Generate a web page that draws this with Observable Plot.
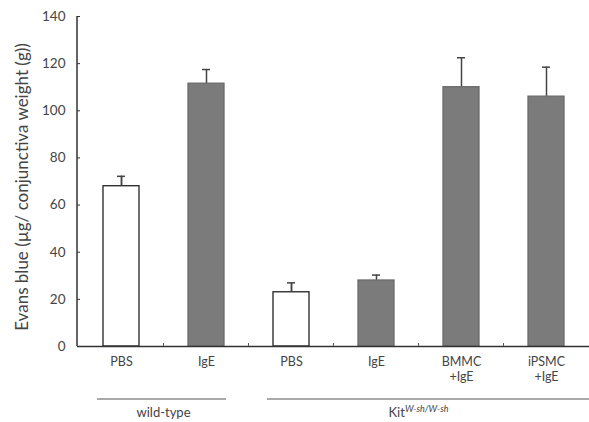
<!DOCTYPE html>
<html><head><meta charset="utf-8">
<script src="https://cdn.jsdelivr.net/npm/d3@7"></script>
<script src="https://cdn.jsdelivr.net/npm/@observablehq/plot@0.6"></script>
<style>body{margin:0;background:#fff;} svg{font-family:Lato,"Open Sans",sans-serif;}</style>
</head><body><div id="chart"></div>
<script>
const ids = ["wt-PBS","wt-IgE","kit-PBS","kit-IgE","kit-BMMC","kit-iPSMC"];
const labels = ["PBS","IgE","PBS","IgE","BMMC\n+IgE","iPSMC\n+IgE"];
const values = [68, 111.5, 23, 28, 110, 106];
const errors = [4.2, 6, 4, 2.3, 12.5, 12.5];
const fills = ["white","grey","white","grey","grey","grey"];
const groups = [{name:"wild-type", members:["wt-PBS","wt-IgE"]},{name:"Kit", sup:"W-sh/W-sh", members:["kit-PBS","kit-IgE","kit-BMMC","kit-iPSMC"]}];
const yTicks = [0,20,40,60,80,100,120,140];
const yLabel = "Evans blue (µg/ conjunctiva weight (g))";

const data = ids.map((id,i)=>({id, label:labels[i], v:values[i], e:errors[i], f:fills[i]}));

const plot = Plot.plot({
  width:589, height:422,
  marginLeft:77, marginRight:0, marginTop:16, marginBottom:76,
  style:{fontFamily:"Lato, 'Open Sans', sans-serif", fontSize:"12px", color:"#333", background:"white"},
  x:{domain:ids, paddingInner:0.58, paddingOuter:0.29, axis:null},
  y:{domain:[0,140], axis:null},
  marks:[
    Plot.ruleX(data,{x:"id", y1:d=>d.v, y2:d=>d.v+d.e, stroke:"#444", strokeWidth:1.5}),
    Plot.ruleX(data.filter(d=>d.f==="white"),{x:"id", y1:d=>d.v-d.e, y2:d=>d.v, stroke:"#444", strokeWidth:1.5}),
    Plot.tickY(data,{x:"id", y:d=>d.v+d.e, stroke:"#444", strokeWidth:1.5, inset:14}),
    Plot.tickY(data.filter(d=>d.f==="white"),{x:"id", y:d=>d.v-d.e, stroke:"#444", strokeWidth:1.5, inset:14}),
    Plot.barY(data,{x:"id", y:"v", fill:d=>d.f==="white"?"white":"#7b7b7b", stroke:d=>d.f==="white"?"#222":"#6a6a6a", strokeWidth:1.3}),
    Plot.ruleX(data.filter(d=>d.f==="white"),{x:"id", y1:d=>d.v, y2:d=>d.v+d.e, stroke:"#444", strokeWidth:1.5}),
    Plot.ruleY([0],{stroke:"#333", strokeWidth:1.5}),
    Plot.axisY({ticks:yTicks, tickSize:-3, tickPadding:15, fontSize:13.5, stroke:"#333", fill:"#444", label:null}),
    Plot.text(data,{x:"id", y:0, text:"label", dy:8, lineAnchor:"top", lineHeight:1.25, fontSize:12.5, fill:"#444"})
  ]
});
document.getElementById("chart").appendChild(plot);

const svg = d3.select(plot);
const xs = plot.scale("x"), ys = plot.scale("y");
const bw = xs.bandwidth || 0;
const step = xs.apply(ids[1]) - xs.apply(ids[0]);
const y0 = ys.apply(0), yTop = ys.apply(140);
// y axis line
svg.append("line").attr("x1",77).attr("x2",77).attr("y1",yTop).attr("y2",y0).attr("stroke","#333").attr("stroke-width",1.5);
// y axis label
svg.append("text").attr("transform",`translate(22,${(yTop+y0)/2 + 6}) rotate(-90)`).attr("text-anchor","middle")
  .attr("dy","0.35em").attr("font-size",17).attr("fill","#444").text(yLabel);
// boundary ticks on x axis
for (let i=1;i<ids.length;i++){
  const xb = xs.apply(ids[i]) + bw/2 - step/2;
  svg.append("line").attr("x1",xb).attr("x2",xb).attr("y1",y0).attr("y2",y0-3).attr("stroke","#555").attr("stroke-width",1);
}
// group lines and labels
groups.forEach(g=>{
  const c1 = xs.apply(g.members[0]) + bw/2, c2 = xs.apply(g.members[g.members.length-1]) + bw/2;
  const x1 = c1 - 24, x2 = g.sup ? 589 : c2 + 20;
  svg.append("line").attr("x1",x1).attr("x2",x2).attr("y1",y0+53).attr("y2",y0+53).attr("stroke","#555").attr("stroke-width",1.2);
  const t = svg.append("text").attr("x",(c1+c2)/2).attr("y",y0+71).attr("text-anchor","middle")
    .attr("font-size",13).attr("fill","#444").text(g.name);
  if (g.sup) t.append("tspan").attr("dy",-5).attr("font-size",9).attr("font-style","italic").text(g.sup);
});
</script></body></html>
